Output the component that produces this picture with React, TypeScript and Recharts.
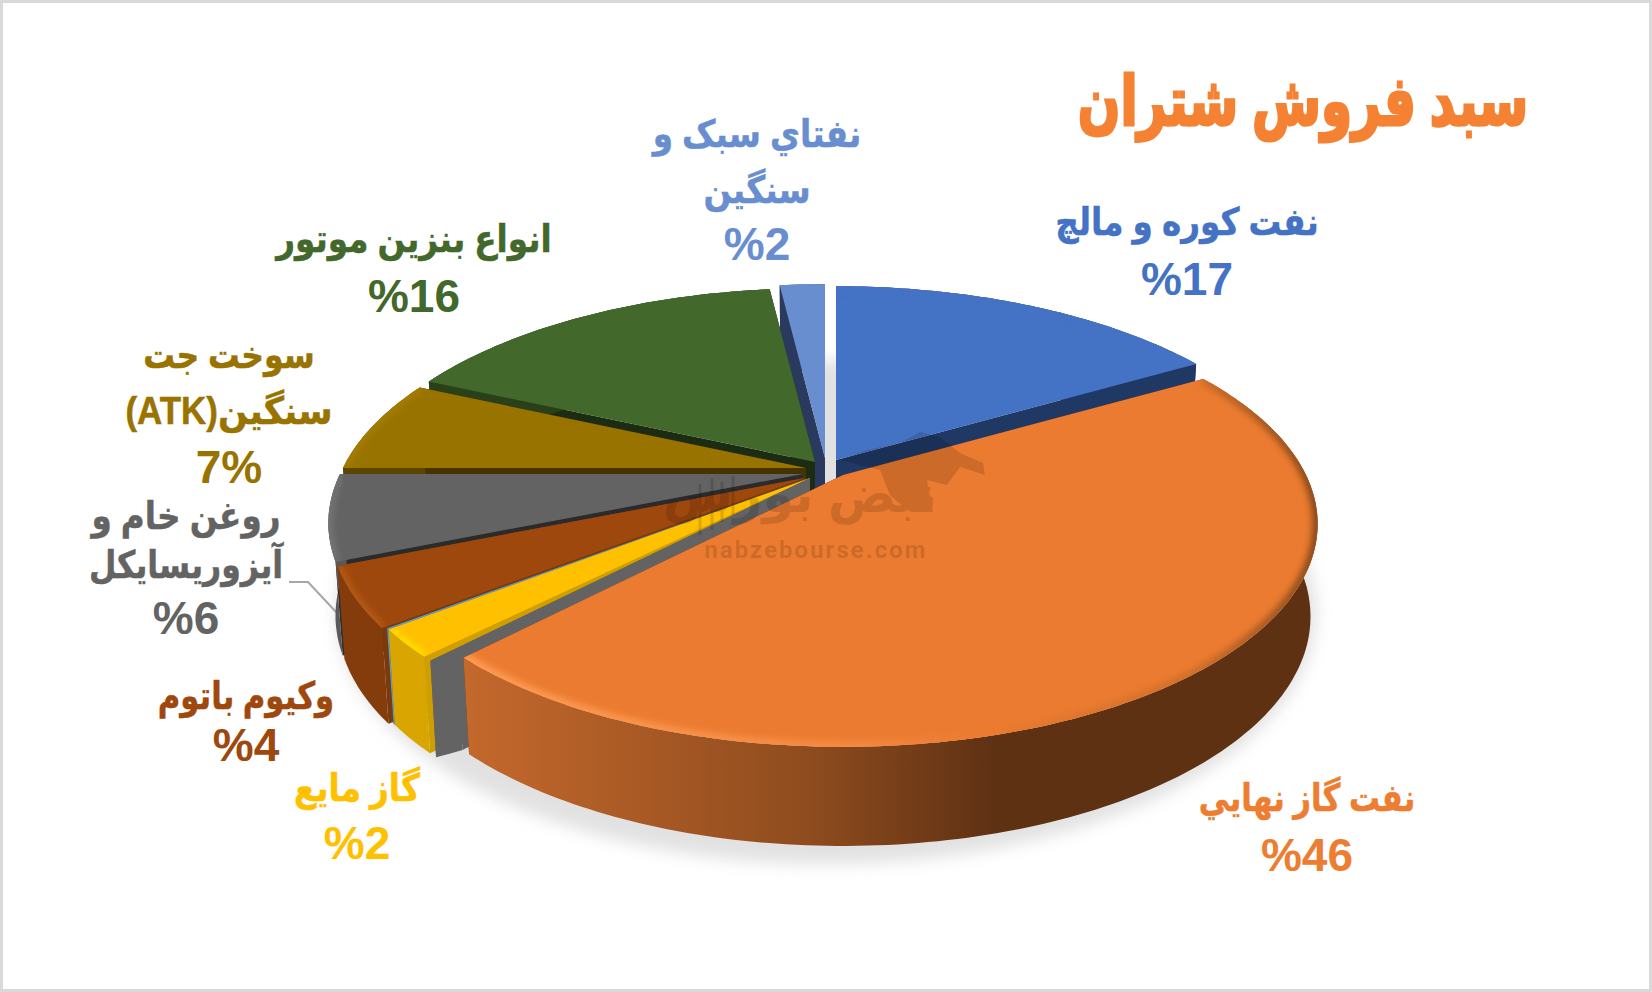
import React from 'react';
import { PieChart, Pie } from 'recharts';

const categories = ['نفت کوره و مالچ', 'نفتاي سبک و سنگين', 'انواع بنزين موتور', 'سوخت جت سنگين(ATK)', 'روغن خام و آيزوريسايكل', 'وکيوم باتوم', 'sliver', 'گاز مايع', 'band', 'نفت گاز نهايي'];
const values = [16.6, 1.9, 16.3, 6.8, 6.2, 4.3, 0.1, 2, 0.3, 45.5];
const percentText = ['%17', '%2', '%16', '7%', '%6', '%4', '', '%2', '', '%46'];
const nameLines = [
  ['نفت کوره و مالچ'],
  ['نفتاي سبک و', 'سنگين'],
  ['انواع بنزين موتور'],
  ['سوخت جت', 'سنگين(ATK)'],
  ['روغن خام و', 'آيزوريسايكل'],
  ['وکيوم باتوم'],
  [],
  ['گاز مايع'],
  [],
  ['نفت گاز نهايي'],
];
const titleText = 'سبد فروش شتران';

const data = categories.map((name, i) => ({ name, value: values[i], idx: i }));
const total = values.reduce((a, b) => a + b, 0);

const CX = 823, CY = 466, RX = 463, RY = 212, K = 0.22;
const DEPTH = 91;

const looks = [
  { top: '#4472C4', cut: '#203864', strip: '#203864', rim: '#4472C4', dx: 13, dy: -6 },
  { top: '#698ED0', cut: '#2A3A5E', strip: '#2A3A5E', rim: '#698ED0', dx: 2, dy: -8 },
  { top: '#43682B', cut: '#1C2C12', strip: '#2A4019', rim: '#43682B', dx: -8, dy: -4 },
  { top: '#997300', cut: '#453400', strip: '#5C4500', rim: '#A57D05', dx: -17, dy: 2 },
  { top: '#636363', cut: '#2B2B2B', strip: '#595959', rim: '#747474', dx: -20, dy: 8 },
  { top: '#9E480E', cut: '#7A3A0C', strip: '#843C0C', rim: '#B55A12', dx: -18, dy: 12 },
  { top: '#5B9BD5', cut: '#2B2B2B', strip: '#5B9BD5', rim: '#5B9BD5', dx: -13, dy: 12 },
  { top: '#FFC000', cut: '#CF9E00', strip: '#D9A500', rim: '#FFDD00', dx: -13, dy: 12 },
  { top: '#636363', cut: '#636363', strip: '#636363', rim: '#636363', dx: -13, dy: 12 },
  { top: '#EB7B30', cut: '#5F3113', strip: 'url(#orangeSide)', rim: 'url(#orangeRim)', dx: 20, dy: 9 },
];
const BAND = 8;
const ORANGE = 9;

const labelSpots = [
  { x: 1187, ys: [235, 295] },
  { x: 757, ys: [147, 203, 260] },
  { x: 414, ys: [252, 312] },
  { x: 229, ys: [368, 424, 483] },
  { x: 186, ys: [529, 578, 634] },
  { x: 246, ys: [709, 761] },
  { x: 0, ys: [] },
  { x: 357, ys: [801, 859] },
  { x: 0, ys: [] },
  { x: 1307, ys: [811, 871] },
];
const lineStretch = [[0.86], [0.86, 0.86], [0.86], [0.83, 0.92], [0.86, 0.83], [0.81], [], [0.86], [], [0.81]];
const labelColors = ['#4472C4', '#698ED0', '#43682B', '#997300', '#636363', '#9E480E', '', '#FFC000', '', '#ED7D31'];

const FONT = '"Liberation Sans", "DejaVu Sans", sans-serif';

type P = { x: number; y: number };
const rad = (d: number) => (d * Math.PI) / 180;
const project = (deg: number, ax: number, ay: number): P => {
  const u = Math.cos(rad(deg));
  const v = Math.sin(rad(deg));
  const w = 1 + K * v;
  return { x: ax + (RX * u) / w, y: ay - (RY * v) / w };
};

function SliceShape(props: any) {
  const idx = props.idx ?? props.payload?.idx ?? 0;
  const look = looks[idx];
  const ax = CX + look.dx;
  const ay = CY + look.dy;
  const a0 = Math.min(props.startAngle, props.endAngle);
  const a1 = Math.max(props.startAngle, props.endAngle);
  const low = (p: P): P => ({ x: ax + (p.x - ax) * 0.985, y: p.y + DEPTH + (p.y - ay) * 0.03 });
  const steps = Math.max(2, Math.ceil(a1 - a0));
  const rim: P[] = [];
  for (let i = 0; i <= steps; i++) {
    const deg = a0 + ((a1 - a0) * i) / steps;
    if (idx === BAND) {
      // the wedge reaches across the gap up to the exploded neighbour's corner
      const t = i / steps;
      const own = project(a1, ax, ay);
      const next = project(a0, CX + looks[ORANGE].dx, CY + looks[ORANGE].dy);
      rim.push({ x: next.x + (own.x - next.x) * t, y: next.y + (own.y - next.y) * t });
    } else {
      rim.push(project(deg, ax, ay));
    }
  }
  const lowRim = rim.map(low);
  const apex = { x: ax, y: ay };
  const lowApex = { x: ax, y: ay + DEPTH };
  const d = (pts: P[]) => 'M' + pts.map((p) => `${p.x.toFixed(1)},${p.y.toFixed(1)}`).join('L');
  const topPath = d([apex, ...rim]) + 'Z';
  const clip = `topClip${idx}`;
  return (
    <g>
      <path d={d([apex, lowApex, lowRim[0], rim[0]]) + 'Z'} fill={look.cut} />
      <path d={d([apex, lowApex, lowRim[steps], rim[steps]]) + 'Z'} fill={look.cut} />
      <path d={d([...rim, ...[...lowRim].reverse()]) + 'Z'} fill={look.strip} />
      <path d={topPath} fill={look.top} />
      <clipPath id={clip}>
        <path d={topPath} />
      </clipPath>
      <g clipPath={`url(#${clip})`}>
        <path d={d(rim)} fill="none" stroke={look.rim} strokeWidth={idx === ORANGE ? 11 : 9} filter="url(#soft)" />
      </g>
    </g>
  );
}

function Watermark() {
  return (
    <g opacity={0.13} fontFamily={FONT} fontWeight={700} fill="#000" style={{ pointerEvents: 'none' }}>
      <text x={816} y={558} textAnchor="middle" fontSize={24} fontFamily="Roboto" letterSpacing={2}>nabzebourse.com</text>
      <text transform="translate(800,512) scale(0.98,1)" textAnchor="middle" direction="rtl" fontSize={52}>نبض بورس</text>
      <path d="M840,460 L867,450 L900,443 L920,432 L940,437 L960,453 L983,463 L985,475 L970,470 L960,467 L947,485 L927,480 L933,512 L907,510 L890,495 L880,470 Z" />
      <path d="M700,484 V535 M712,478 V530 M722,482 V522 M733,476 V515" stroke="#000" strokeWidth={3} />
    </g>
  );
}

function SliceLabel(props: any) {
  const idx = props.idx ?? props.payload?.idx ?? props.index ?? 0;
  const spot = labelSpots[idx];
  if (!spot || spot.ys.length === 0) return null;
  const lines = [...nameLines[idx], percentText[idx]];
  return (
    <g>
      {lines.map((line, i) => {
        const isPct = i === lines.length - 1;
        return isPct ? (
          <text key={i} x={spot.x} y={spot.ys[i]} textAnchor="middle" direction="ltr" fontFamily={FONT} fontWeight={700} fontSize={46} fill={labelColors[idx]}>
            {line}
          </text>
        ) : (
          <text
            key={i}
            transform={`translate(${spot.x},${spot.ys[i]}) scale(${lineStretch[idx][i]},1)`}
            textAnchor="middle"
            direction="rtl"
            fontFamily={FONT}
            fontWeight={700}
            fontSize={38}
            fill={labelColors[idx]}
            stroke={labelColors[idx]}
            strokeWidth={0.5}
          >
            {line}
          </text>
        );
      })}
      {idx === ORANGE ? <Watermark /> : null}
    </g>
  );
}

export default function App() {
  const blueShare = (values[0] / total) * 360;
  const start = 90 - blueShare;
  return (
    <div style={{ position: 'fixed', left: 0, top: 0, width: 1652, height: 992, background: '#fff', overflow: 'hidden' }}>
      <PieChart width={1652} height={992} margin={{ top: 0, right: 0, bottom: 0, left: 0 }}>
        <defs>
          <filter id="soft" x="-20%" y="-20%" width="140%" height="140%">
            <feGaussianBlur stdDeviation="3" />
          </filter>
          <filter id="shadowBlur" x="-20%" y="-20%" width="140%" height="140%">
            <feGaussianBlur stdDeviation="8" />
          </filter>
          <linearGradient id="orangeSide" gradientUnits="userSpaceOnUse" x1="466" y1="0" x2="1319" y2="0">
            <stop offset="0" stopColor="#C4682C" />
            <stop offset="0.4" stopColor="#8F4C1E" />
            <stop offset="0.62" stopColor="#5F3113" />
            <stop offset="1" stopColor="#5F3113" />
          </linearGradient>
          <linearGradient id="orangeRim" gradientUnits="userSpaceOnUse" x1="466" y1="0" x2="1319" y2="0">
            <stop offset="0" stopColor="#FF9C55" />
            <stop offset="0.45" stopColor="#F58A42" />
            <stop offset="0.6" stopColor="#EB7B30" />
            <stop offset="0.85" stopColor="#D06F2B" />
            <stop offset="1" stopColor="#8A4A1C" />
          </linearGradient>
        </defs>
        <rect x={1.5} y={1.5} width={1649} height={989} fill="#fff" stroke="#D9D9D9" strokeWidth={3} />
        <ellipse cx={826} cy={612} rx={490} ry={252} fill="#C4C4C4" opacity={0.5} filter="url(#shadowBlur)" />
        <Pie
          data={data}
          dataKey="value"
          nameKey="name"
          cx={CX}
          cy={CY}
          outerRadius={RX}
          startAngle={start}
          endAngle={start + 360}
          stroke="none"
          isAnimationActive={false}
          shape={SliceShape}
          label={SliceLabel}
          labelLine={false}
        />
        <polyline points="289,582 308,582 337,613" fill="none" stroke="#A6A6A6" strokeWidth={2} />
        <text
          transform="translate(1303,125) scale(0.735,1)"
          textAnchor="middle"
          direction="rtl"
          fontFamily={FONT}
          fontWeight={700}
          fontSize={68}
          fill="#F58233"
          stroke="#F58233"
          strokeWidth={3}
        >
          {titleText}
        </text>
      </PieChart>
    </div>
  );
}
